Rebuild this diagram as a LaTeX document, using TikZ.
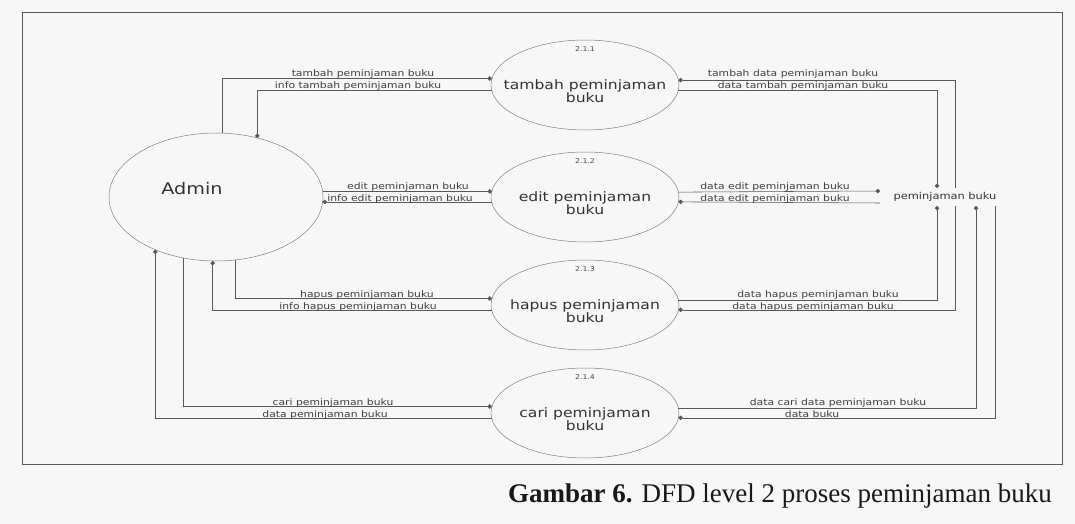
\documentclass[tikz,border=0pt]{standalone}
\usepackage{fontspec}
\setmainfont{Liberation Serif}
\newfontfamily\dfdfont[FakeStretch=1.2]{DejaVu Sans}
\usetikzlibrary{arrows.meta,shapes.geometric}
\begin{document}
\begin{tikzpicture}[x=1pt,y=-1pt,
  frame/.style={draw=black!65, line width=0.7pt},
  entity/.style={draw=black!50, line width=0.5pt, ellipse, minimum width=214pt,
    minimum height=128pt, inner sep=0pt, outer sep=0pt},
  proc/.style={draw=black!50, line width=0.5pt, ellipse, minimum width=188pt,
    minimum height=90pt, inner sep=0pt, outer sep=0pt},
  ptext/.style={font=\dfdfont\fontsize{13}{13.5}\selectfont, text=black!80,
    align=center, inner sep=0pt, yshift=-6pt},
  pnum/.style={font=\dfdfont\fontsize{6.5}{7}\selectfont, text=black!70,
    inner sep=0pt, anchor=north, yshift=-6pt},
  store/.style={font=\dfdfont\fontsize{9.5}{10}\selectfont, text=black!80,
    minimum width=130pt, minimum height=18pt, inner sep=0pt, outer sep=0pt},
  flow/.style={draw=black!65, line width=0.55pt, -{Circle[length=4.4pt]}},
  lbl/.style={font=\dfdfont\fontsize{9}{9}\selectfont, text=black!75,
    inner sep=0pt, anchor=base, yshift=2pt},
  caption/.style={font=\fontsize{27}{30}\selectfont, text=black!90, inner sep=0pt}]

% page
\fill[black!3] (0,0) rectangle (1075,524);
\useasboundingbox (0,0) rectangle (1075,524);
\draw[frame] (22,12) rectangle (1062,464);

% external entity
\node[entity, label={[font=\dfdfont\fontsize{16}{16}\selectfont, text=black!80,
  inner sep=0pt, xshift=-24pt, yshift=8pt]center:Admin}] (admin) at (216,197) {};

% processes
\node[proc, label={[ptext]center:tambah peminjaman\\buku},
  label={[pnum]north:2.1.1}] (tambah) at (585,85) {};
\node[proc, label={[ptext]center:edit peminjaman\\buku},
  label={[pnum]north:2.1.2}] (edit) at (585,197) {};
\node[proc, label={[ptext]center:hapus peminjaman\\buku},
  label={[pnum]north:2.1.3}] (hapus) at (585,305) {};
\node[proc, label={[ptext]center:cari peminjaman\\buku},
  label={[pnum]north:2.1.4}] (cari) at (585,413) {};

% data store
\node[store] (db) at (945,197) {peminjaman buku};

% Admin <-> processes
\draw[flow] (admin.84.64) |- (tambah.176.3);
\draw[flow] (tambah.183.7) -| (admin.55.25);
\draw[flow] (admin.3.22) -- (admin.3.22 -| edit.176.3);
\draw[flow] (edit.183.7) -- (edit.183.7 -| admin.-3.22);
\draw[flow] (admin.-73.21) |- (hapus.176.3);
\draw[flow] (hapus.183.7) -| (admin.-93.58);
\draw[flow] (admin.-118.46) |- (cari.176.3);
\draw[flow] (cari.183.7) -| (admin.-139.24);

% processes <-> data store
\draw[flow] ([xshift=10pt]db.north) |- (tambah.3.7);
\draw[flow] (tambah.-3.7) -| ([xshift=-8pt]db.north);
\draw[flow] (edit.3.7) -- ([yshift=6pt]db.west);
\draw[flow] ([yshift=-6pt]db.west) -- (edit.-3.7);
\draw[flow] (hapus.3.7) -| ([xshift=-8pt]db.south);
\draw[flow] ([xshift=10pt]db.south) |- (hapus.-3.7);
\draw[flow] (cari.3.7) -| ([xshift=31pt]db.south);
\draw[flow] ([xshift=50pt]db.south) |- (cari.-3.7);

% flow labels, left side
\node[lbl] (l1) at (363,79) {tambah peminjaman buku};
\node[lbl] (l2) at (358,91) {info tambah peminjaman buku};
\node[lbl] (l3) at (408,191) {edit peminjaman buku};
\node[lbl] (l4) at (400,203) {info edit peminjaman buku};
\node[lbl] (l5) at (367,299) {hapus peminjaman buku};
\node[lbl] (l6) at (358,311) {info hapus peminjaman buku};
\node[lbl] (l7) at (333,407) {cari peminjaman buku};
\node[lbl] (l8) at (325,419) {data peminjaman buku};

% flow labels, right side
\node[lbl] (r1) at (793,79) {tambah data peminjaman buku};
\node[lbl] (r2) at (803,91) {data tambah peminjaman buku};
\node[lbl] (r3) at (775,191) {data edit peminjaman buku};
\node[lbl] (r4) at (775,203) {data edit peminjaman buku};
\node[lbl] (r5) at (818,299) {data hapus peminjaman buku};
\node[lbl] (r6) at (813,311) {data hapus peminjaman buku};
\node[lbl] (r7) at (838,407) {data cari data peminjaman buku};
\node[lbl] (r8) at (812,419) {data buku};

% caption
\node[caption] (cap) at (780,496) {\textbf{Gambar 6.} DFD level 2 proses peminjaman buku};
\end{tikzpicture}
\end{document}
